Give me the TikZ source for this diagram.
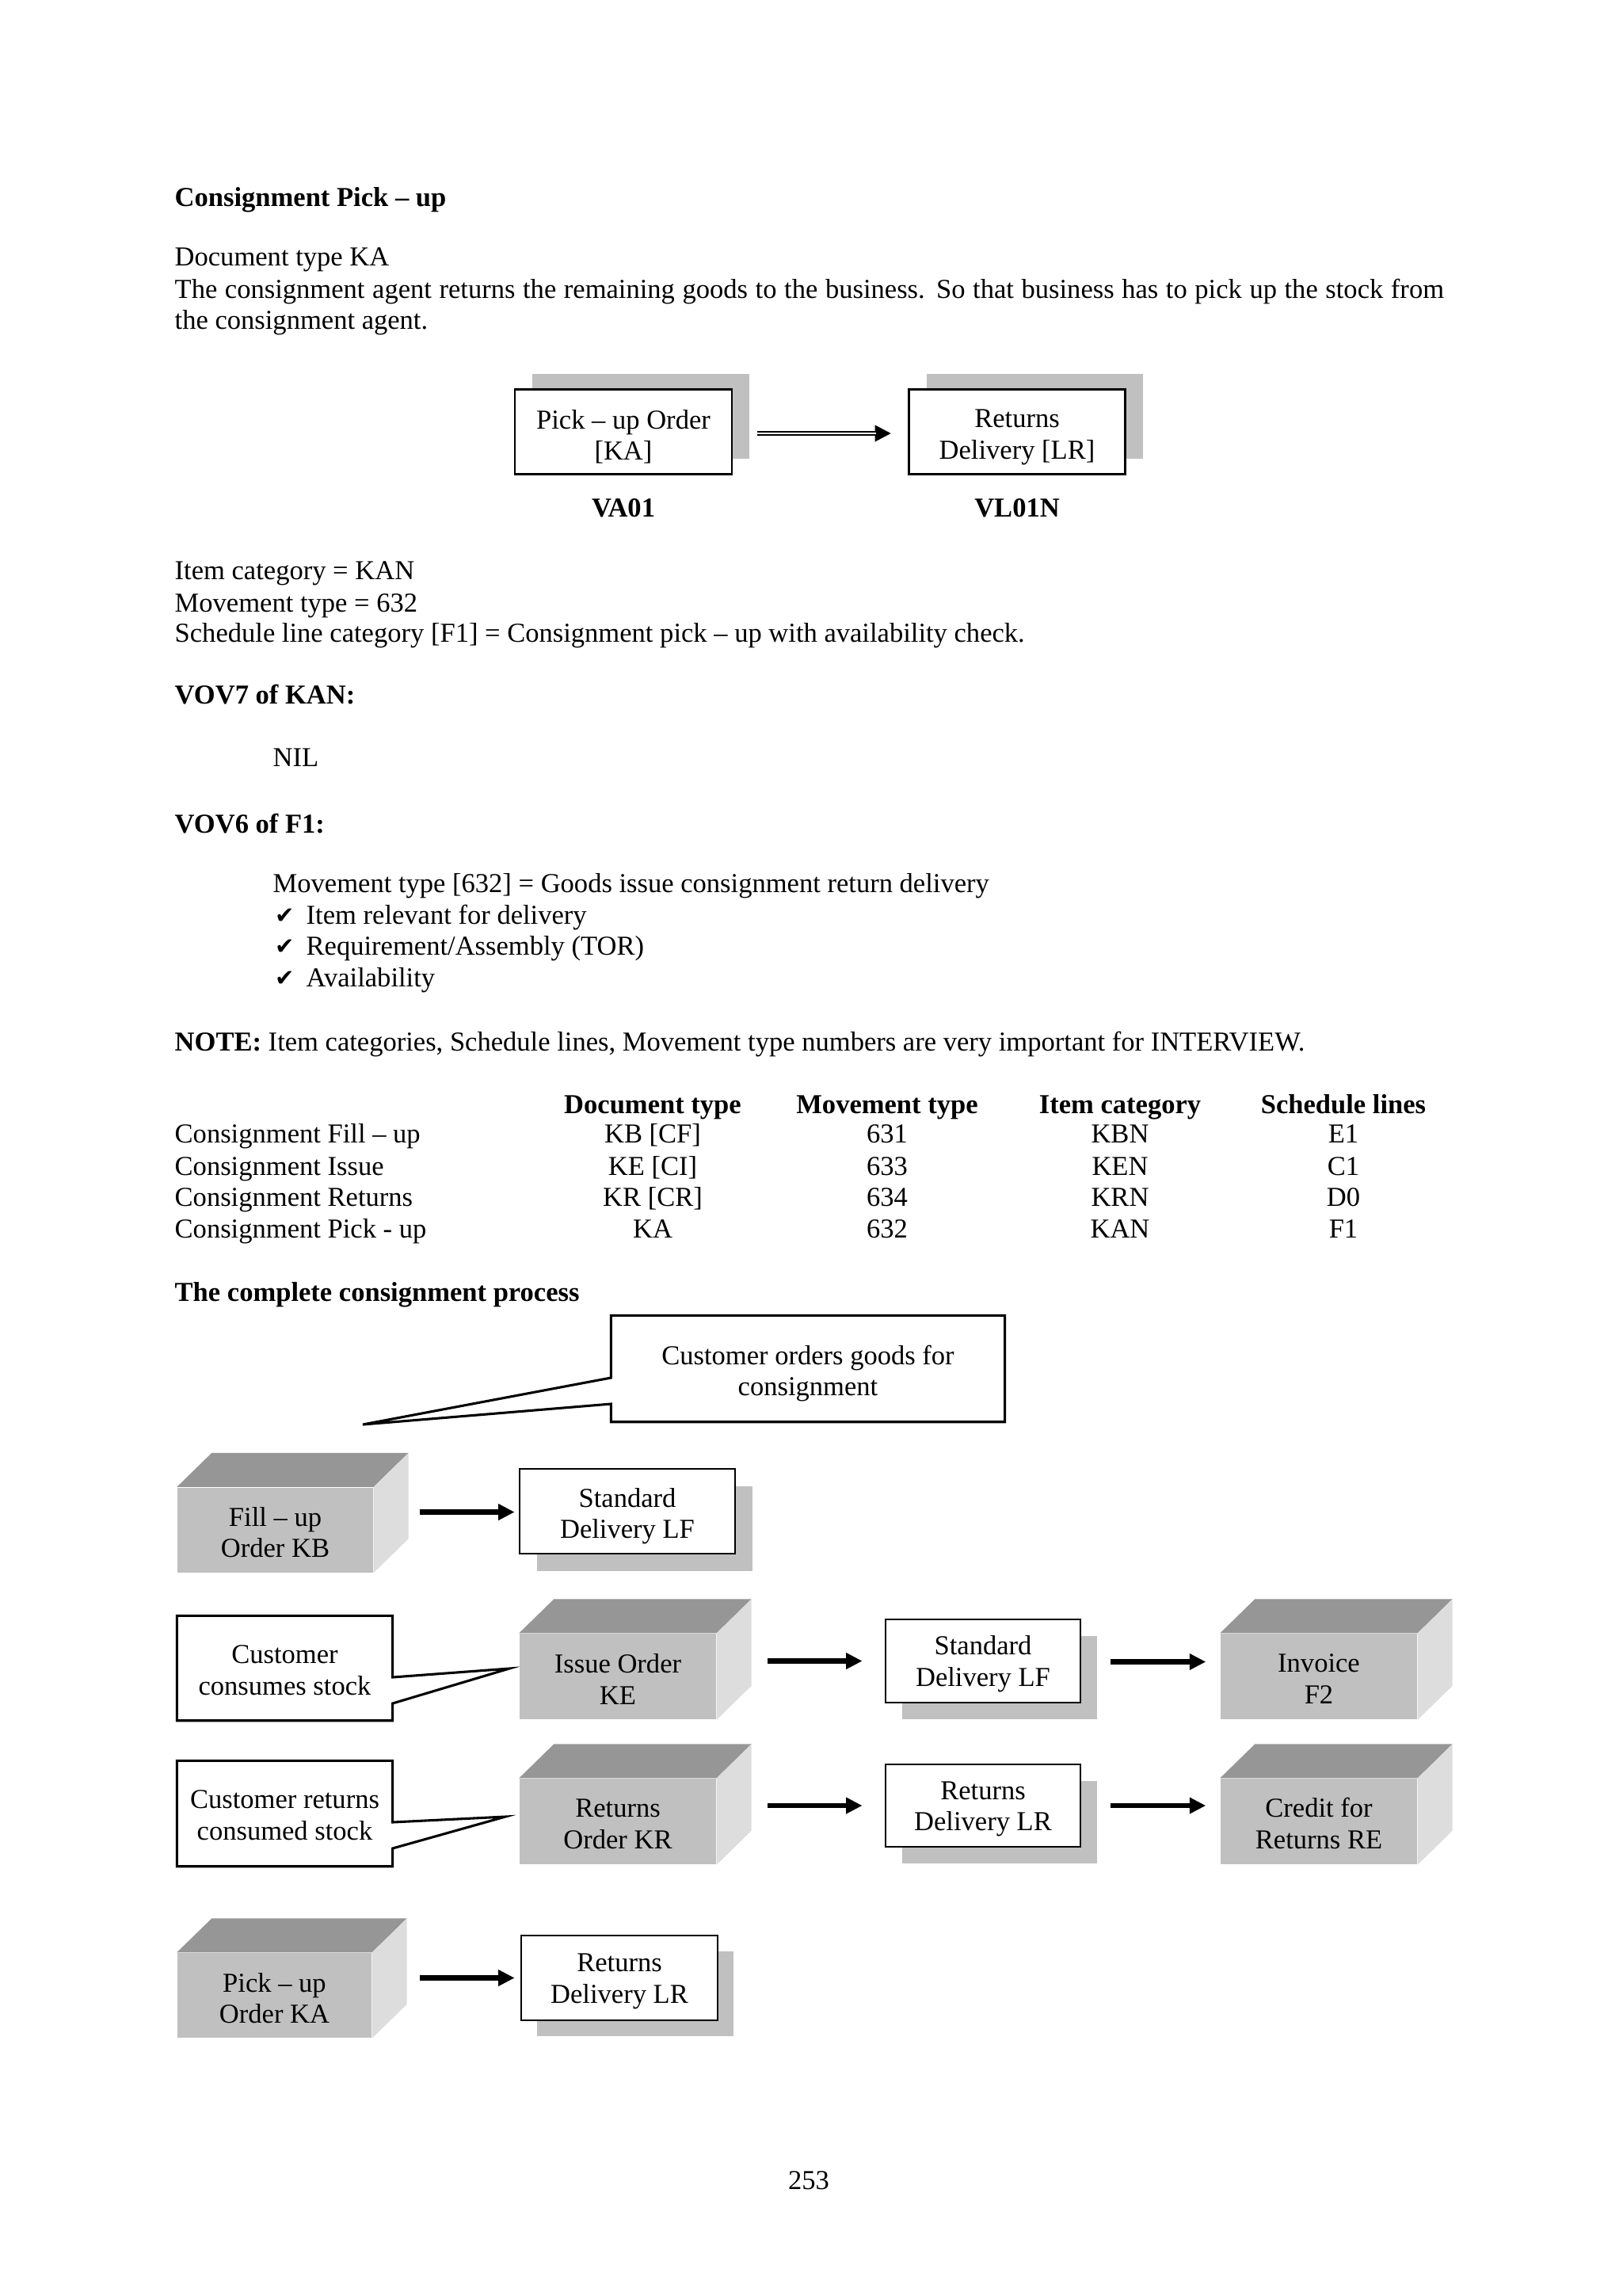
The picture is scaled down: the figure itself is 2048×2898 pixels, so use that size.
\documentclass[tikz,border=0pt]{standalone}
\usepackage{fontspec}
\setmainfont{Liberation Serif}
\newfontfamily\symfont{DejaVu Sans}
\usetikzlibrary{arrows.meta,shadows,calc}
\definecolor{cubefrontc}{HTML}{C0C0C0}
\definecolor{cubetopc}{HTML}{969696}
\definecolor{cubesidec}{HTML}{DDDDDD}
\definecolor{shadowc}{HTML}{C0C0C0}
\newcommand\pxu{0.010254cm}
\newcommand\cubefaces[1]{%
  \fill[cubetopc] (#1.north west) -- ++(44,-43) -- ($(#1.north east)+(44,-43)$) -- (#1.north east) -- cycle;
  \fill[cubesidec] (#1.north east) -- ++(44,-43) -- ($(#1.south east)+(44,-43)$) -- (#1.south east) -- cycle;}
\newcommand\chk{{\symfont\fontsize{8.5}{10}\selectfont ✔}}
\newcommand\up[1]{\rule{0pt}{#1}}
\begin{document}
\begin{tikzpicture}[x=0.010254cm,y={(0cm,-0.010254cm)},
  every node/.style={font=\fontsize{10.08}{11.5}\selectfont},
  txt/.style={anchor=base west,inner sep=0pt},
  ctr/.style={anchor=base,inner sep=0pt},
  bld/.style={font=\fontsize{10.08}{11.5}\selectfont\bfseries},
  docbox/.style={draw,line width=0.8pt,fill=white,align=center,inner sep=0pt},
  cube/.style={fill=cubefrontc,align=center,inner sep=0pt},
  calltxt/.style={align=center,inner sep=0pt},
  callline/.style={line width=0.9pt,line join=miter},
  arr/.style={line width=2pt,-{Triangle[length=0.21cm,width=0.2cm]}},
  sdw/.style={drop shadow={shadow xshift=#1*\pxu,shadow yshift=-#1*\pxu,fill=shadowc,opacity=1}},
  sdwup/.style={drop shadow={shadow xshift=22*\pxu,shadow yshift=20*\pxu,fill=shadowc,opacity=1}},
]
\useasboundingbox[fill=white] (0,0) rectangle (2048,2898);

% ---------- header text ----------
\node[txt,bld] (h1) at (220,260) {Consignment Pick – up};
\node[txt] (t1) at (220,335) {Document type KA};
\node[txt] (t2) at (220,376) {\makebox[16.43cm][s]{The consignment agent returns the remaining goods to the business. So that business has to pick up the stock from}};
\node[txt] (t3) at (220,415) {the consignment agent.};

% ---------- top diagram ----------
\node[docbox,sdwup,minimum width=274*\pxu,minimum height=107*\pxu] (po) at (787,545) {\up{0.37cm}Pick – up Order\\{}[KA]};
\node[docbox,sdwup,minimum width=273*\pxu,minimum height=107*\pxu] (rd) at (1284,545) {\up{0.37cm}Returns\\Delivery [LR]};
\draw[arr] ($(po.east)+(31,2)$) -- ($(rd.west)+(-21,2)$);
\draw[white,line width=0.45pt] ($(po.east)+(31,2)$) -- ($(rd.west)+(-40,2)$);
\node[ctr,bld] (va) at (787,652) {VA01};
\node[ctr,bld] (vl) at (1284,652) {VL01N};

% ---------- middle text ----------
\node[txt] (t4) at (220,731) {Item category = KAN};
\node[txt] (t5) at (220,772) {Movement type = 632};
\node[txt] (t6) at (220,810) {Schedule line category [F1] = Consignment pick – up with availability check.};
\node[txt,bld] (t7) at (220,888) {VOV7 of KAN:};
\node[txt] (t8) at (344,967) {NIL};
\node[txt,bld] (t9) at (220,1051) {VOV6 of F1:};
\node[txt] (t10) at (344,1126) {Movement type [632] = Goods issue consignment return delivery};
\node[txt] (c1) at (347,1165) {\chk};
\node[txt] (t11) at (386,1166) {Item relevant for delivery};
\node[txt] (c2) at (347,1204) {\chk};
\node[txt] (t12) at (386,1205) {Requirement/Assembly (TOR)};
\node[txt] (c3) at (347,1244) {\chk};
\node[txt] (t13) at (386,1245) {Availability};
\node[txt] (t14) at (220,1326) {\textbf{NOTE:} Item categories, Schedule lines, Movement type numbers are very important for INTERVIEW.};

% ---------- table ----------
\node[ctr,bld] (th1) at (824,1405) {Document type};
\node[ctr,bld] (th2) at (1120,1405) {Movement type};
\node[ctr,bld] (th3) at (1414,1405) {Item category};
\node[ctr,bld] (th4) at (1696,1405) {Schedule lines};
\node[txt] (r1) at (220,1442) {Consignment Fill – up};
\node[ctr] (r1a) at (824,1442) {KB [CF]};
\node[ctr] (r1b) at (1120,1442) {631};
\node[ctr] (r1c) at (1414,1442) {KBN};
\node[ctr] (r1d) at (1696,1442) {E1};
\node[txt] (r2) at (220,1483) {Consignment Issue};
\node[ctr] (r2a) at (824,1483) {KE [CI]};
\node[ctr] (r2b) at (1120,1483) {633};
\node[ctr] (r2c) at (1414,1483) {KEN};
\node[ctr] (r2d) at (1696,1483) {C1};
\node[txt] (r3) at (220,1522) {Consignment Returns};
\node[ctr] (r3a) at (824,1522) {KR [CR]};
\node[ctr] (r3b) at (1120,1522) {634};
\node[ctr] (r3c) at (1414,1522) {KRN};
\node[ctr] (r3d) at (1696,1522) {D0};
\node[txt] (r4) at (220,1562) {Consignment Pick - up};
\node[ctr] (r4a) at (824,1562) {KA};
\node[ctr] (r4b) at (1120,1562) {632};
\node[ctr] (r4c) at (1414,1562) {KAN};
\node[ctr] (r4d) at (1696,1562) {F1};

\node[txt,bld] (h2) at (220,1642) {The complete consignment process};

% ---------- process diagram ----------
% callout top
\node[calltxt,minimum width=496*\pxu,minimum height=133*\pxu] (co) at (1020,1727.5) {\up{0.37cm}Customer orders goods for\\consignment};
\coordinate (cotip) at (458,1798);
\draw[callline] (co.north west) -- (co.north east) -- (co.south east) -- (co.south west) -- (co.west |- 0,1772) -- (cotip) -- (co.west |- 0,1739) -- cycle;

% row 1
\node[cube,minimum width=247*\pxu,minimum height=107*\pxu] (kb) at (347.5,1931) {\up{0.31cm}Fill – up\\Order KB};
\cubefaces{kb}
\node[docbox,sdw=22,minimum width=272*\pxu,minimum height=107*\pxu] (lf1) at (792,1907.5) {\up{0.37cm}Standard\\Delivery LF};
\draw[arr] ($(kb.east |- lf1.west)+(58,1)$) -- ($(lf1.west)+(-5,1)$);

% row 2
\node[calltxt,minimum width=271*\pxu,minimum height=131*\pxu] (cc) at (359.5,2105.5) {\up{0.29cm}Customer\\consumes stock};
\coordinate (cctip) at (643,2106);
\draw[callline] (cc.north west) -- (cc.north east) -- (cc.east |- 0,2117) -- (cctip) -- (cc.east |- 0,2150) -- (cc.south east) -- (cc.south west) -- cycle;
\node[cube,minimum width=248*\pxu,minimum height=108*\pxu] (ke) at (780,2116) {\up{0.32cm}Issue Order\\KE};
\cubefaces{ke}
\node[docbox,sdw=21,minimum width=246*\pxu,minimum height=105*\pxu] (lf2) at (1241,2096.5) {\up{0.32cm}Standard\\Delivery LF};
\node[cube,minimum width=248*\pxu,minimum height=108*\pxu] (f2) at (1665,2116) {\up{0.30cm}Invoice\\F2};
\cubefaces{f2}
\draw[arr] ($(ke.east |- lf2.west)+(64,0)$) -- ($(lf2.west)+(-28,0)$);
\draw[arr] ($(lf2.east)+(37,1)$) -- ($(f2.west |- lf2.east)+(-18,1)$);

% row 3
\node[calltxt,minimum width=271*\pxu,minimum height=132*\pxu] (cr) at (359.5,2289) {\up{0.28cm}Customer returns\\consumed stock};
\coordinate (crtip) at (638,2293);
\draw[callline] (cr.north west) -- (cr.north east) -- (cr.east |- 0,2300) -- (crtip) -- (cr.east |- 0,2333) -- (cr.south east) -- (cr.south west) -- cycle;
\node[cube,minimum width=248*\pxu,minimum height=108*\pxu] (kr) at (780,2299) {\up{0.30cm}Returns\\Order KR};
\cubefaces{kr}
\node[docbox,sdw=21,minimum width=246*\pxu,minimum height=104*\pxu] (lr3) at (1241,2279) {\up{0.32cm}Returns\\Delivery LR};
\node[cube,minimum width=248*\pxu,minimum height=108*\pxu] (re) at (1665,2299) {\up{0.30cm}Credit for\\Returns RE};
\cubefaces{re}
\draw[arr] ($(kr.east |- lr3.west)+(64,0)$) -- ($(lr3.west)+(-28,0)$);
\draw[arr] ($(lr3.east)+(37,0)$) -- ($(re.west |- lr3.east)+(-18,0)$);

% row 4
\node[cube,minimum width=245*\pxu,minimum height=107*\pxu] (ka) at (346.5,2518.5) {\up{0.32cm}Pick – up\\Order KA};
\cubefaces{ka}
\node[docbox,sdw=20,minimum width=248*\pxu,minimum height=107*\pxu] (lr4) at (782,2496.5) {\up{0.32cm}Returns\\Delivery LR};
\draw[arr] ($(ka.east |- lr4.west)+(60,0)$) -- ($(lr4.west)+(-7,0)$);

% page number
\node[ctr] (pg) at (1021,2763) {253};
\end{tikzpicture}
\end{document}
